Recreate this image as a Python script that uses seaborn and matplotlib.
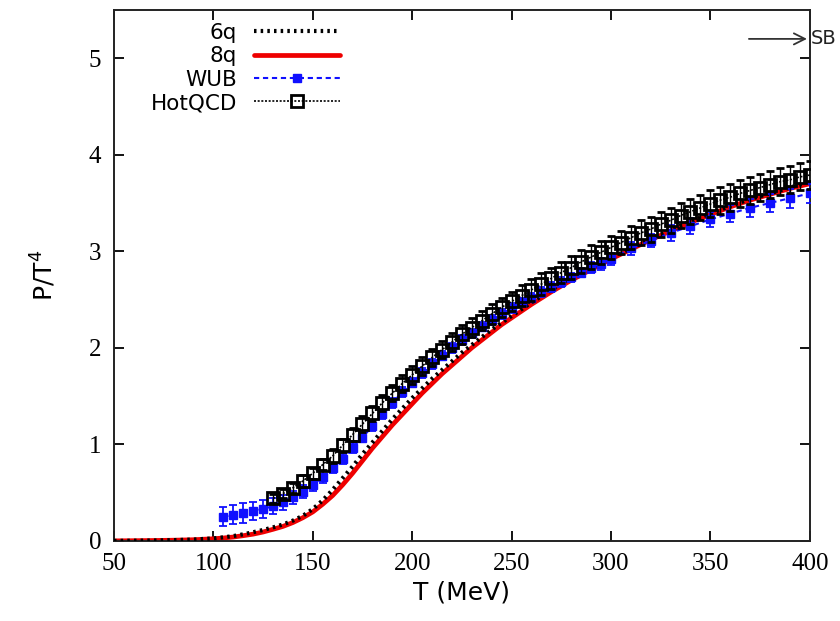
import numpy as np
import pandas as pd
import matplotlib
matplotlib.use("Agg")
import matplotlib.pyplot as plt
import seaborn as sns

# ---------------- data ----------------
T_curve = [50, 60, 70, 80, 90, 100, 105, 110, 115, 120, 125, 130, 135, 140, 145, 150,
           155, 160, 165, 170, 175, 180, 185, 190, 195, 200, 205, 210, 215, 220, 225,
           230, 235, 240, 245, 250, 260, 270, 280, 290, 300, 310, 320, 330, 340, 350,
           360, 370, 380, 390, 400]
p_8q = [0.0, 0.002, 0.004, 0.007, 0.012, 0.022, 0.03, 0.04, 0.054, 0.07, 0.092, 0.12,
        0.15, 0.19, 0.24, 0.30, 0.38, 0.47, 0.58, 0.70, 0.83, 0.96, 1.08, 1.20, 1.31,
        1.42, 1.53, 1.63, 1.73, 1.82, 1.91, 2.00, 2.08, 2.16, 2.24, 2.31, 2.45, 2.58,
        2.70, 2.81, 2.92, 3.02, 3.12, 3.21, 3.30, 3.38, 3.46, 3.53, 3.59, 3.65, 3.70]
p_6q = [0.0, 0.002, 0.004, 0.008, 0.014, 0.026, 0.037, 0.05, 0.068, 0.09, 0.113, 0.14,
        0.17, 0.21, 0.26, 0.33, 0.42, 0.53, 0.65, 0.77, 0.90, 1.02, 1.14, 1.26, 1.37,
        1.48, 1.58, 1.68, 1.77, 1.86, 1.95, 2.03, 2.11, 2.19, 2.26, 2.33, 2.47, 2.60,
        2.72, 2.83, 2.93, 3.03, 3.13, 3.22, 3.31, 3.39, 3.47, 3.54, 3.60, 3.66, 3.72]

T_wub = [105, 110, 115, 120, 125, 130, 135, 140, 145, 150, 155, 160, 165, 170, 175, 180,
         185, 190, 195, 200, 205, 210, 215, 220, 225, 230, 235, 240, 245, 250, 255, 260,
         265, 270, 275, 280, 285, 290, 295, 300, 310, 320, 330, 340, 350, 360, 370, 380,
         390, 400]
p_wub = [0.25, 0.27, 0.29, 0.31, 0.33, 0.36, 0.40, 0.45, 0.51, 0.58, 0.66, 0.75, 0.85,
         0.96, 1.07, 1.19, 1.31, 1.43, 1.54, 1.64, 1.74, 1.83, 1.92, 2.00, 2.08, 2.15,
         2.22, 2.29, 2.35, 2.41, 2.47, 2.52, 2.58, 2.63, 2.68, 2.73, 2.78, 2.83, 2.87,
         2.92, 3.03, 3.11, 3.19, 3.26, 3.33, 3.39, 3.45, 3.50, 3.55, 3.60]
e_wub = [0.10, 0.10, 0.10, 0.09, 0.09, 0.08, 0.08, 0.07, 0.07, 0.06, 0.06, 0.05, 0.05,
         0.05, 0.05, 0.05, 0.05, 0.05, 0.05, 0.05, 0.05, 0.05, 0.05, 0.05, 0.05, 0.05,
         0.05, 0.05, 0.05, 0.05, 0.05, 0.05, 0.05, 0.05, 0.05, 0.05, 0.05, 0.06, 0.06,
         0.06, 0.07, 0.07, 0.08, 0.08, 0.08, 0.09, 0.09, 0.09, 0.10, 0.10]

T_hot = [130, 135, 140, 145, 150, 155, 160, 165, 170, 175, 180, 185, 190, 195, 200, 205,
         210, 215, 220, 225, 230, 235, 240, 245, 250, 255, 260, 265, 270, 275, 280, 285,
         290, 295, 300, 305, 310, 315, 320, 325, 330, 335, 340, 345, 350, 355, 360, 365,
         370, 375, 380, 385, 390, 395, 400]
p_hot = [0.44, 0.49, 0.55, 0.62, 0.70, 0.79, 0.88, 0.99, 1.10, 1.21, 1.32, 1.43, 1.53,
         1.63, 1.72, 1.81, 1.90, 1.98, 2.06, 2.14, 2.21, 2.28, 2.35, 2.42, 2.48, 2.54,
         2.60, 2.66, 2.72, 2.78, 2.83, 2.89, 2.94, 2.99, 3.04, 3.09, 3.14, 3.19, 3.23,
         3.28, 3.32, 3.37, 3.41, 3.45, 3.49, 3.53, 3.56, 3.60, 3.63, 3.66, 3.69, 3.72,
         3.74, 3.77, 3.79]
e_hot = [0.05, 0.05, 0.05, 0.06, 0.06, 0.06, 0.07, 0.07, 0.07, 0.08, 0.08, 0.08, 0.08,
         0.09, 0.09, 0.09, 0.09, 0.09, 0.09, 0.10, 0.10, 0.10, 0.10, 0.10, 0.10, 0.11,
         0.11, 0.11, 0.11, 0.11, 0.12, 0.12, 0.12, 0.12, 0.12, 0.12, 0.12, 0.13, 0.13,
         0.13, 0.13, 0.13, 0.13, 0.13, 0.14, 0.14, 0.14, 0.14, 0.14, 0.14, 0.14, 0.14,
         0.14, 0.14, 0.14]

x_ticks = [50, 100, 150, 200, 250, 300, 350, 400]
y_ticks = [0, 1, 2, 3, 4, 5]
sb_value = 5.2

# ---------------- style ----------------
sns.set_theme(style="ticks")
plt.rcParams["font.family"] = ["DejaVu Sans"]
plt.rcParams["text.color"] = "black"
plt.rcParams["axes.labelcolor"] = "black"
plt.rcParams["xtick.color"] = "black"
plt.rcParams["ytick.color"] = "black"

fig = plt.figure(figsize=(8.4, 6.21), dpi=100)
ax = fig.add_axes([0.1357, 0.129, 0.8283, 0.855])

df_curve = pd.DataFrame({"T": T_curve, "6q": p_6q, "8q": p_8q})

sns.lineplot(data=df_curve, x="T", y="6q", ax=ax, color="black", lw=3,
             linestyle=(0, (0.6, 1.0)), label="6q", zorder=3)
sns.lineplot(data=df_curve, x="T", y="8q", ax=ax, color="#ee0000", lw=3.4,
             label="8q", zorder=2)

wub = ax.errorbar(T_wub, p_wub, yerr=e_wub, color="#1010ff", ls=(0, (2.5, 1.8)), lw=1.5,
                  marker="s", ms=5.5, mfc="#1010ff", mec="#1010ff", ecolor="#1010ff",
                  elinewidth=1.3, capsize=3, capthick=1.3, label="WUB", zorder=4)
hot = ax.errorbar(T_hot, p_hot, yerr=e_hot, color="black", ls=(0, (1.2, 1.0)), lw=1.2,
                  marker="s", ms=8, mfc="none", mec="black", mew=2.0, ecolor="black",
                  elinewidth=1.0, capsize=3, capthick=1.2, label="HotQCD", zorder=5)

# SB arrow
ax.annotate("", xy=(400, sb_value), xytext=(368, sb_value),
            arrowprops=dict(arrowstyle="->", color="#333333", lw=1.3,
                            mutation_scale=20), annotation_clip=False)
ax.text(400.5, sb_value, "SB", ha="left", va="center", fontsize=14,
        color="#222222", clip_on=False)

ax.set_xlim(50, 400)
ax.set_ylim(0, 5.5)
ax.set_xticks(x_ticks)
ax.set_yticks(y_ticks)
ax.set_xticklabels([str(v) for v in x_ticks], family="Liberation Serif", fontsize=18)
ax.set_yticklabels([str(v) for v in y_ticks], family="Liberation Serif", fontsize=18)
ax.tick_params(direction="in", length=7, width=1.3, top=True, right=True,
               colors="black", pad=9)
for s in ax.spines.values():
    s.set_color("#222222")
    s.set_linewidth(1.4)
    s.set_visible(True)

ax.set_xlabel("T (MeV)", fontsize=18, labelpad=4)
ax.set_ylabel(r"P/T$^4$", fontsize=18, labelpad=22)

handles, labels = ax.get_legend_handles_labels()
hmap = dict(zip(labels, handles))
leg_handles = [hmap["6q"], hmap["8q"], wub[0], hot[0]]
leg = ax.legend(leg_handles, ["6q", "8q", "WUB", "HotQCD"],
                loc="upper right", bbox_to_anchor=(0.325, 0.976), frameon=False,
                markerfirst=False, fontsize=15.5, handlelength=4.0, numpoints=1,
                handletextpad=0.8, labelspacing=0.16, borderaxespad=0.0,
                borderpad=0.0)

fig.savefig("out.png", dpi=100)
